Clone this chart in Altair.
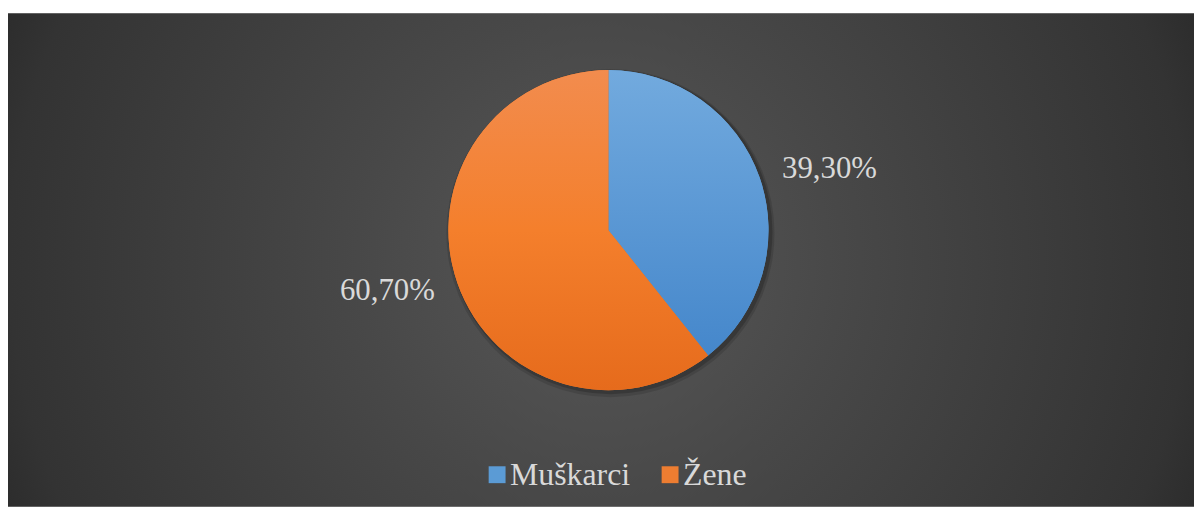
import altair as alt
import pandas as pd

# ---- data ----
title_text = "Grafikon 20: Japanski turisti u Hrvatskoj prema spolu"
categories = ["Muškarci", "Žene"]
shares = [39.3, 60.7]
label_texts = ["39,30%", "60,70%"]
order_idx = [0, 1]
colors = ["#5b9bd5", "#ed7d31"]

df = pd.DataFrame({"spol": categories, "udio": shares, "oznaka": label_texts, "red": order_idx})
one = pd.DataFrame({"k": [0]})

# ---- layout / style ----
W, H = 1193, 496
CX, CY = 604, 218
R = 161
SERIF = "Liberation Serif, Times New Roman, DejaVu Serif, serif"
LIGHT = "#d9d9d9"

bg_grad = alt.RadialGradient(
    gradient="radial", x1=0.5, y1=0.5, r1=0, x2=0.5, y2=0.5, r2=0.5,
    stops=[
        alt.GradientStop(offset=0, color="#585858"),
        alt.GradientStop(offset=0.35, color="#484848"),
        alt.GradientStop(offset=0.85, color="#333333"),
        alt.GradientStop(offset=1, color="#262626"),
    ],
)
blue_grad = alt.LinearGradient(
    gradient="linear", x1=0, y1=0, x2=0, y2=1,
    stops=[alt.GradientStop(offset=0, color="#72aade"),
           alt.GradientStop(offset=1, color="#4587cb")],
)
orange_grad = alt.LinearGradient(
    gradient="linear", x1=0, y1=0, x2=0, y2=1,
    stops=[alt.GradientStop(offset=0, color="#f28c4e"),
           alt.GradientStop(offset=0.5, color="#f47f2c"),
           alt.GradientStop(offset=1, color="#e66b1c")],
)

background = alt.Chart(one).mark_arc(
    radius=700, theta=0, theta2=6.2832, clip=True, fill=bg_grad
).encode(x=alt.value(596), y=alt.value(248))

shadow1 = alt.Chart(one).mark_arc(
    radius=R + 4, theta=0, theta2=6.2832, fill="black", opacity=0.12
).encode(x=alt.value(CX + 2), y=alt.value(CY + 3))
shadow2 = alt.Chart(one).mark_arc(
    radius=R + 2, theta=0, theta2=6.2832, fill="black", opacity=0.18
).encode(x=alt.value(CX + 2), y=alt.value(CY + 2))

base = alt.Chart(df)
theta = alt.Theta("udio:Q", stack=True)
order = alt.Order("red:O")

legend_arc = base.mark_arc(radius=R).encode(
    theta=theta, order=order,
    color=alt.Color(
        "spol:N",
        scale=alt.Scale(domain=categories, range=colors),
        sort=categories,
        legend=alt.Legend(
            orient="none", legendX=476, legendY=448, direction="horizontal",
            title=None, symbolType="square", symbolSize=289, symbolStrokeWidth=0,
            labelFont=SERIF, labelFontSize=32, labelColor=LIGHT,
            labelOffset=alt.expr("-3"), columnPadding=24, labelLimit=0,
        ),
    ),
    x=alt.value(CX), y=alt.value(CY),
)

pie = base.mark_arc(radius=R).encode(
    theta=theta, order=order,
    fill=alt.condition(alt.datum.red == 0, alt.value(blue_grad), alt.value(orange_grad)),
    x=alt.value(CX), y=alt.value(CY),
)

labels = base.mark_text(
    radius=185, font=SERIF, fontSize=31, color=LIGHT, baseline="middle",
    align=alt.expr("datum.red == 0 ? 'left' : 'right'"),
).encode(
    theta=theta, order=order, text="oznaka:N",
    x=alt.value(CX), y=alt.value(CY),
)

chart = alt.layer(background, shadow1, shadow2, legend_arc, pie, labels).properties(
    width=W, height=H,
    title=alt.TitleParams(
        title_text, font=SERIF, fontSize=31, fontWeight="normal", color="black",
        anchor="middle", frame="group", offset=8, baseline="alphabetic", dx=10,
    ),
    autosize=alt.AutoSizeParams(type="none"),
    padding={"left": 0, "top": 4, "right": 0, "bottom": 0},
).configure_view(stroke=None, fill="#2a2a2a")

chart.save("out.html", embed_options={"renderer": "svg", "actions": False})
